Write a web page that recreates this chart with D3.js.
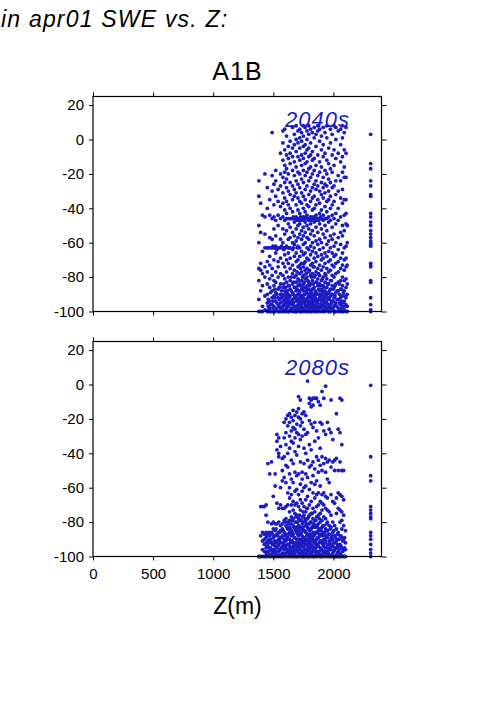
<!DOCTYPE html>
<meta charset="utf-8">
<style>
body { margin: 0; background: #fff; }
svg { display: block; font-family: "Liberation Sans", Arial, sans-serif; }
.frame { fill: none; stroke: #000; stroke-width: 1.2px; }
.tick line { stroke: #000; }
.tick text { font-size: 15px; fill: #000; }
.domain { display: none; }
.dot { fill: #1c1cc4; }
.plabel { font-size: 22px; font-style: italic; fill: #1c1cc4; text-anchor: end; letter-spacing: 1px; }
</style>
<svg width="501" height="709"></svg>
<script src="https://d3js.org/d3.v7.min.js"></script>
<script>

// columns of [elevation (m), list of % change in apr01 SWE]
var cols2040 = [
  [1380, [-24,-33,-50,-60,-75,-82,-93,-100]],
  [1395, [-37,-54,-72,-76,-88,-100]],
  [1410, [-44,-65,-78,-85,-97,-100]],
  [1430, [-20,-45,-55,-63,-74,-80,-91,-99]],
  [1450, [-28,-40,-63,-71,-77,-84,-90,-95,-100]],
  [1470, [-35,-44,-57,-68,-73,-81,-86,-94,-98,-100]],
  [1490, [4,-21,-30,-46,-58,-63,-75,-79,-88,-92,-96,-100]],
  [1505, [-26,-38,-45,-52,-63,-70,-82,-85,-91,-97,-100]],
  [1520, [-18,-24,-33,-47,-56,-62,-66,-77,-83,-89,-94,-99]],
  [1540, [-29,-36,-44,-50,-63,-71,-74,-80,-87,-92,-96,-100]],
  [1560, [-8,-20,-27,-39,-46,-58,-63,-69,-78,-84,-90,-95,-98,-100]],
  [1580, [5,-2,-12,-22,-31,-37,-45,-52,-60,-63,-72,-79,-86,-91,-94,-97,-100]],
  [1595, [6,-6,-15,-19,-25,-34,-41,-47,-55,-63,-67,-74,-81,-88,-93,-96,-100]],
  [1610, [2,-9,-17,-23,-28,-36,-43,-46,-53,-62,-70,-77,-83,-89,-92,-95,-98,-100]],
  [1625, [-4,-11,-20,-30,-38,-46,-49,-58,-63,-66,-72,-80,-85,-90,-94,-97,-100]],
  [1640, [-1,-8,-14,-25,-32,-40,-46,-51,-57,-63,-69,-75,-82,-87,-91,-95,-99]],
  [1660, [7,-5,-10,-18,-27,-35,-42,-46,-54,-60,-64,-73,-78,-84,-89,-93,-96,-100]],
  [1675, [3,-3,-13,-21,-29,-33,-46,-48,-56,-61,-68,-76,-80,-86,-92,-97,-100]],
  [1690, [8,0,-7,-16,-24,-31,-38,-45,-47,-52,-59,-66,-71,-79,-83,-88,-91,-94,-98,-100]],
  [1705, [5,-2,-10,-19,-26,-34,-41,-46,-50,-57,-62,-70,-74,-81,-85,-90,-93,-96,-99]],
  [1720, [6,1,-5,-12,-20,-28,-36,-43,-46,-49,-55,-63,-68,-73,-78,-84,-89,-92,-95,-98,-100]],
  [1735, [4,-1,-9,-15,-23,-31,-37,-46,-47,-53,-58,-65,-72,-77,-82,-87,-91,-94,-97,-100]],
  [1750, [8,2,-4,-11,-18,-25,-33,-40,-45,-46,-51,-56,-61,-67,-74,-79,-84,-88,-92,-95,-98,-100]],
  [1765, [7,-3,-8,-14,-21,-29,-35,-42,-46,-48,-54,-60,-66,-71,-76,-81,-86,-90,-93,-96,-99]],
  [1780, [5,0,-6,-13,-19,-27,-38,-44,-46,-50,-57,-63,-69,-75,-80,-85,-89,-93,-97,-100]],
  [1795, [8,3,-5,-10,-17,-24,-32,-39,-46,-47,-52,-58,-64,-70,-77,-83,-87,-91,-94,-98,-100]],
  [1810, [6,-2,-9,-16,-22,-30,-36,-45,-49,-55,-62,-67,-73,-79,-84,-88,-92,-96,-100]],
  [1825, [4,-7,-12,-20,-28,-34,-41,-46,-53,-60,-65,-72,-78,-82,-87,-91,-95,-98]],
  [1840, [7,1,-11,-18,-26,-33,-40,-46,-48,-56,-63,-69,-74,-80,-86,-90,-94,-97,-100]],
  [1855, [3,-4,-15,-24,-29,-38,-44,-47,-51,-59,-66,-71,-77,-83,-89,-93,-96,-100]],
  [1870, [8,5,-9,-21,-27,-35,-46,-54,-61,-68,-75,-81,-85,-90,-95,-99]],
  [1885, [6,-1,-13,-19,-30,-37,-43,-46,-49,-58,-64,-73,-79,-84,-88,-92,-97,-100]],
  [1900, [2,-6,-16,-25,-32,-41,-46,-52,-60,-67,-70,-76,-82,-87,-91,-94,-98]],
  [1915, [7,-3,-10,-22,-28,-34,-44,-47,-55,-63,-69,-74,-80,-85,-89,-93,-96,-100]],
  [1930, [4,-8,-18,-26,-31,-39,-46,-50,-57,-66,-72,-78,-83,-88,-92,-97,-100]],
  [1945, [8,1,-12,-20,-27,-36,-42,-46,-53,-61,-68,-75,-81,-86,-90,-95,-99]],
  [1960, [-5,-14,-23,-30,-35,-45,-48,-59,-65,-71,-77,-84,-89,-93,-98,-100]],
  [1975, [6,-2,-17,-25,-33,-40,-47,-56,-63,-70,-76,-82,-87,-91,-96,-100]],
  [1990, [3,-9,-19,-28,-38,-44,-51,-58,-66,-73,-79,-85,-90,-94,-99]],
  [2005, [8,-6,-15,-27,-36,-46,-55,-62,-68,-74,-80,-86,-92,-97,-100]],
  [2020, [7,0,-11,-24,-32,-43,-49,-60,-67,-72,-78,-84,-89,-95,-100]],
  [2040, [5,-8,-21,-30,-40,-47,-57,-64,-71,-77,-83,-88,-93,-98,-100]],
  [2060, [6,-3,-13,-24,-34,-45,-54,-61,-69,-75,-82,-87,-92,-96,-100]],
  [2075, [8,1,-10,-19,-29,-37,-50,-56,-66,-73,-80,-85,-91,-97,-100]],
  [2090, [4,-6,-16,-22,-35,-44,-53,-63,-70,-76,-82,-88,-94,-99]],
  [2105, [7,-8,-22,-35,-43,-49,-62,-69,-74,-81,-86,-92,-96,-100]],
  [2115, [-50,-60,-73,-84,-90,-97,-100]],
  [2310, [3,-14,-17,-24,-27,-32,-33,-43,-45,-48,-50,-53,-55,-57,-59,-60,-61,-62,-72,-73,-74,-82,-83,-92,-96,-99,-100]]
];

// extra cells filling the dense low part and the -46 / -63 bands
var extra2040 = [
  [1458, [-63,-93,-97,-99]],
  [1478, [-63,-89,-96,-100]],
  [1497, [-62,-94,-98]],
  [1513, [-63,-87,-92,-100]],
  [1530, [-64,-90,-95,-98]],
  [1550, [-63,-86,-93,-97,-100]],
  [1568, [-62,-88,-92,-99]],
  [1587, [-64,-84,-90,-96,-99]],
  [1603, [-63,-86,-91,-94,-99]],
  [1617, [-88,-93,-97]],
  [1632, [-63,-85,-92,-96,-100]],
  [1650, [-46,-80,-88,-94,-98]],
  [1667, [-45,-63,-83,-90,-95,-99]],
  [1683, [-46,-86,-92,-97,-100]],
  [1698, [-46,-63,-77,-87,-93,-97,-100]],
  [1712, [-47,-82,-88,-94,-99]],
  [1727, [-45,-75,-85,-91,-96,-100]],
  [1742, [-46,-80,-86,-93,-98]],
  [1757, [-47,-72,-83,-90,-95,-99]],
  [1772, [-45,-78,-88,-94,-97,-100]],
  [1787, [-46,-82,-87,-92,-96,-99]],
  [1802, [-46,-76,-85,-90,-95,-98]],
  [1817, [-47,-80,-89,-94,-97,-100]],
  [1832, [-45,-74,-84,-93,-96,-99]],
  [1848, [-46,-79,-88,-92,-98]],
  [1862, [-46,-83,-90,-94,-97,-100]],
  [1877, [-47,-78,-87,-93,-98]],
  [1893, [-45,-85,-90,-96,-100]],
  [1908, [-81,-88,-93,-97]],
  [1922, [-86,-91,-95,-99]],
  [1937, [-79,-89,-94,-98]],
  [1952, [-84,-92,-96]],
  [1968, [-88,-93,-97,-100]],
  [1983, [-82,-90,-95,-98]],
  [1998, [-87,-94,-98]],
  [2013, [-85,-91,-96,-100]],
  [2030, [-88,-93,-97]],
  [2050, [-84,-90,-95,-99]],
  [2068, [-87,-94,-98]],
  [2083, [-89,-95,-100]],
  [2098, [-91,-97]]
];

var cols2080 = [
  [1380, [-100,-100]],
  [1395, [-71,-88,-100]],
  [1410, [-71,-86,-91,-96,-100]],
  [1425, [-71,-87,-90,-93,-97,-100]],
  [1440, [-70,-76,-86,-89,-92,-95,-98,-100]],
  [1455, [-46,-80,-87,-91,-94,-97,-100]],
  [1470, [-52,-88,-90,-95,-99,-100]],
  [1485, [-45,-81,-86,-92,-96,-100]],
  [1500, [-65,-80,-84,-89,-93,-97,-100]],
  [1515, [-52,-59,-81,-85,-88,-94,-98,-100]],
  [1530, [-29,-33,-38,-69,-81,-87,-91,-95,-100]],
  [1545, [-31,-40,-42,-72,-80,-86,-90,-93,-97,-100]],
  [1560, [-36,-60,-70,-82,-85,-89,-92,-96,-99,-100]],
  [1575, [-43,-50,-56,-72,-81,-84,-88,-94,-98,-100]],
  [1590, [-22,-31,-42,-54,-72,-79,-86,-90,-93,-96,-100]],
  [1605, [-20,-28,-35,-47,-57,-71,-78,-82,-87,-91,-95,-98,-100]],
  [1620, [-18,-24,-40,-48,-63,-70,-80,-84,-89,-93,-97,-100]],
  [1635, [-17,-22,-30,-37,-52,-60,-66,-74,-79,-83,-86,-90,-94,-96,-99,-100]],
  [1650, [-19,-27,-33,-44,-55,-64,-70,-77,-81,-85,-88,-91,-95,-98,-100]],
  [1665, [-15,-21,-25,-34,-46,-57,-68,-73,-78,-82,-87,-92,-94,-97,-100]],
  [1680, [-18,-26,-31,-39,-51,-62,-70,-75,-80,-84,-89,-93,-96,-99,-100]],
  [1695, [-16,-23,-28,-41,-53,-61,-69,-76,-80,-83,-86,-90,-94,-97,-100]],
  [1710, [-7,-14,-19,-29,-36,-52,-64,-71,-78,-82,-85,-88,-92,-95,-98,-100]],
  [1725, [-9,-20,-24,-32,-45,-58,-67,-73,-79,-83,-87,-90,-93,-96,-99,-100]],
  [1740, [-17,-22,-30,-51,-55,-62,-69,-77,-81,-84,-88,-91,-94,-97,-100]],
  [1755, [-16,-26,-37,-46,-60,-71,-76,-80,-85,-89,-92,-95,-98,-100]],
  [1770, [-18,-29,-40,-52,-59,-67,-74,-79,-82,-86,-90,-93,-96,-99,-100]],
  [1785, [2,-28,-44,-54,-65,-72,-78,-83,-87,-91,-94,-97,-100]],
  [1800, [-8,-11,-21,-35,-48,-61,-70,-76,-81,-85,-89,-92,-96,-99,-100]],
  [1815, [-9,-13,-23,-38,-47,-57,-68,-75,-80,-84,-88,-91,-95,-98,-100]],
  [1830, [-8,-12,-25,-45,-53,-63,-72,-78,-82,-86,-90,-94,-97,-100]],
  [1845, [-8,-22,-33,-49,-58,-66,-74,-79,-83,-87,-92,-96,-100]],
  [1860, [-8,-27,-42,-56,-64,-71,-77,-82,-86,-90,-93,-97,-100]],
  [1875, [-10,-31,-44,-51,-63,-70,-76,-81,-85,-89,-94,-98,-100]],
  [1890, [-12,-22,-37,-47,-59,-68,-75,-80,-84,-88,-91,-95,-99,-100]],
  [1905, [-4,-23,-42,-50,-64,-69,-73,-79,-83,-87,-92,-96,-100]],
  [1920, [-8,-27,-46,-63,-70,-77,-82,-86,-90,-94,-97,-100]],
  [1935, [-1,-29,-43,-51,-65,-72,-78,-84,-88,-91,-95,-98,-100]],
  [1950, [-22,-45,-55,-66,-73,-80,-85,-89,-93,-97,-100]],
  [1965, [-26,-44,-57,-74,-82,-87,-91,-95,-99,-100]],
  [1980, [-9,-28,-48,-64,-76,-83,-89,-93,-96,-100]],
  [1995, [-32,-45,-68,-80,-86,-90,-94,-98,-100]],
  [2010, [-44,-50,-69,-82,-88,-92,-96,-100]],
  [2025, [-17,-43,-66,-75,-84,-91,-95,-99,-100]],
  [2040, [-26,-50,-63,-72,-86,-90,-94,-97,-100]],
  [2055, [-8,-28,-45,-64,-73,-80,-88,-93,-98,-100]],
  [2070, [-9,-35,-50,-65,-74,-79,-84,-89,-95,-100]],
  [2085, [-50,-67,-76,-82,-90,-96,-100]],
  [2100, [-85,-92,-96,-100]],
  [2310, [-0.5,-42,-53,-56,-71,-73,-75,-77,-78,-86,-88,-90,-93,-96,-98,-100]]
];

// extra cells filling the dense low part
var extra2080 = [
  [1448, [-88,-94,-99]],
  [1463, [-86,-92,-97]],
  [1478, [-90,-95,-99]],
  [1493, [-87,-93,-98]],
  [1508, [-91,-96,-100]],
  [1523, [-84,-92,-97]],
  [1538, [-88,-94,-99]],
  [1553, [-86,-91,-96]],
  [1568, [-89,-95,-100]],
  [1583, [-85,-92,-98]],
  [1598, [-80,-88,-94,-99]],
  [1613, [-83,-90,-96]],
  [1628, [-81,-87,-93,-98]],
  [1643, [-84,-92,-97,-100]],
  [1658, [-79,-86,-91,-95,-99]],
  [1673, [-83,-89,-94,-98]],
  [1688, [-77,-85,-92,-96,-100]],
  [1703, [-80,-87,-93,-97]],
  [1718, [-76,-84,-90,-95,-99]],
  [1733, [-79,-86,-92,-98]],
  [1748, [-74,-83,-89,-94,-97,-100]],
  [1763, [-78,-85,-91,-96,-99]],
  [1778, [-72,-81,-88,-93,-98]],
  [1793, [-77,-84,-90,-95,-100]],
  [1808, [-80,-87,-93,-97]],
  [1823, [-75,-83,-89,-94,-99]],
  [1838, [-81,-88,-92,-96,-100]],
  [1853, [-79,-86,-91,-95,-98]],
  [1868, [-83,-89,-94,-99]],
  [1883, [-78,-87,-92,-97]],
  [1898, [-85,-91,-96,-100]],
  [1913, [-82,-88,-93,-98]],
  [1928, [-86,-92,-97]],
  [1943, [-81,-89,-95,-99]],
  [1958, [-87,-93,-98]],
  [1973, [-84,-91,-96,-100]],
  [1988, [-88,-94,-99]],
  [2003, [-85,-92,-97]],
  [2018, [-89,-95,-100]],
  [2033, [-87,-93,-98]],
  [2048, [-90,-96,-100]],
  [2063, [-88,-94,-99]],
  [2078, [-91,-97]],
  [2093, [-89,-95,-100]]
];

var xTicks = [0, 500, 1000, 1500, 2000];
var yTicks = [20, 0, -20, -40, -60, -80, -100];
var panelNames = ['2040s', '2080s'];

var svg = d3.select('svg');

var x = d3.scaleLinear()
    .domain([0, 2400])
    .range([93, 381.5]);

var panels = [
  {name: panelNames[0], cols: cols2040.concat(extra2040), top: 96.5, bottom: 311.5, labelY: 127, xlabels: false},
  {name: panelNames[1], cols: cols2080.concat(extra2080), top: 341.5, bottom: 556.5, labelY: 375, xlabels: true}
];

svg.append('text')
    .attr('x', 1)
    .attr('y', 27)
    .style('font-size', '23px')
    .style('font-style', 'italic')
    .style('letter-spacing', '1.2px')
    .text('in apr01 SWE vs. Z:');

svg.append('text')
    .attr('x', 237.5)
    .attr('y', 80)
    .attr('text-anchor', 'middle')
    .style('font-size', '25px')
    .style('letter-spacing', '1px')
    .text('A1B');

panels.forEach(function(p) {
  var y = d3.scaleLinear()
      .domain([-100, 25])
      .range([p.bottom, p.top]);

  var pts = [];
  p.cols.forEach(function(c) {
    c[1].forEach(function(v) { pts.push([c[0], v]); });
  });

  var g = svg.append('g');

  g.selectAll('.dot')
      .data(pts)
      .enter()
      .append('circle')
      .attr('class', 'dot')
      .attr('r', 1.9)
      .attr('cx', function(d) { return x(d[0]); })
      .attr('cy', function(d) { return y(d[1]); });

  g.append('rect')
      .attr('class', 'frame')
      .attr('x', x.range()[0])
      .attr('y', p.top)
      .attr('width', x.range()[1] - x.range()[0])
      .attr('height', p.bottom - p.top);

  g.append('g')
      .attr('transform', 'translate(' + x.range()[0] + ',0)')
      .call(d3.axisLeft(y).tickValues(yTicks).tickSize(4).tickPadding(5)
        .tickFormat(function(d) { return String(d); }));

  g.append('g')
      .attr('transform', 'translate(' + x.range()[1] + ',0)')
      .call(d3.axisRight(y).tickValues(yTicks).tickSize(5).tickFormat(''));

  g.append('g')
      .attr('transform', 'translate(0,' + p.top + ')')
      .call(d3.axisTop(x).tickValues(xTicks).tickSize(4).tickFormat(''));

  g.append('g')
      .attr('transform', 'translate(0,' + p.bottom + ')')
      .call(d3.axisBottom(x).tickValues(xTicks).tickSize(4).tickPadding(8)
        .tickFormat(function(d) { return p.xlabels ? String(d) : ''; }));

  g.append('text')
      .attr('class', 'plabel')
      .attr('x', 350)
      .attr('y', p.labelY)
      .text(p.name);
});

svg.append('text')
    .attr('x', 237.5)
    .attr('y', 614)
    .attr('text-anchor', 'middle')
    .style('font-size', '23px')
    .text('Z(m)');

</script>
